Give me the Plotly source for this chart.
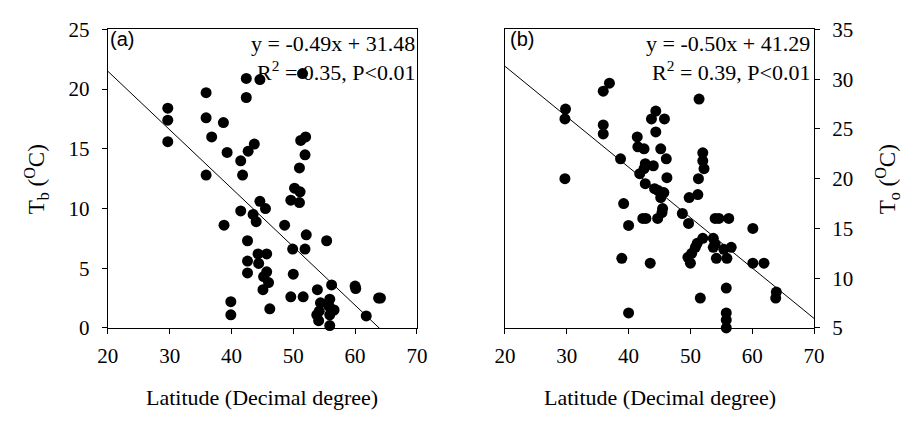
import plotly.graph_objects as go

# Panel (a): latitude vs Tb
lat_a = [29.7, 29.7, 29.7, 35.9, 35.9, 36.8, 38.7, 39.3, 42.4, 44.6, 42.4, 51.5, 43.7, 42.7,
         41.5, 51.2, 52.0, 51.9, 51.0, 35.9, 41.8,
         50.2, 51.1, 49.6, 51.0, 44.6, 45.5, 41.5, 43.5, 44.0, 38.8, 48.6, 52.1, 55.4, 42.6,
         49.9, 51.9, 44.3, 45.7, 44.4, 42.6, 42.6, 45.7, 45.2, 50.0, 46.0, 45.1, 56.2, 60.0,
         60.1, 53.9, 49.6, 51.6, 63.8, 64.1, 39.9, 39.9, 46.2, 54.4, 55.9, 55.8, 56.6, 53.8,
         54.1, 55.9, 55.9, 61.8, 54.2]
tb_a = [18.4, 17.4, 15.6, 19.7, 17.6, 16.0, 17.2, 14.7, 20.9, 20.8, 19.3, 21.3, 15.4, 14.8,
        14.0, 15.7, 16.0, 14.5, 13.4, 12.8, 12.8,
        11.7, 11.4, 10.7, 10.5, 10.6, 10.0, 9.8, 9.5, 8.9, 8.6, 8.6, 7.8, 7.3, 7.3,
        6.6, 6.6, 6.2, 6.2, 5.4, 5.6, 4.6, 4.7, 4.3, 4.5, 3.8, 3.2, 3.6, 3.5,
        3.3, 3.2, 2.6, 2.6, 2.5, 2.5, 2.2, 1.1, 1.6, 2.1, 2.4, 1.8, 1.5, 1.1,
        0.6, 1.1, 0.2, 1.0, 1.4]

# Panel (b): latitude vs To
lat_b = [29.8, 29.7, 29.7, 35.9, 36.9, 35.9, 35.9, 38.7, 39.2, 40.0, 38.9, 40.0, 51.4, 44.4,
         43.7, 45.8, 44.4, 41.4, 41.5, 42.5, 45.2, 46.1, 42.7, 44.0, 42.5, 41.8, 46.2, 42.7,
         44.2, 44.8, 45.7, 45.2, 49.8, 51.2, 51.3, 52.0, 52.0, 52.2, 45.5, 45.4, 44.7, 42.3,
         42.8, 48.7, 49.7, 54.0, 54.6, 56.2, 60.1, 52.0, 51.1, 50.8, 50.2, 49.6, 50.0, 53.7,
         54.0, 53.7, 54.2, 55.4, 56.6, 55.9, 60.1, 61.9, 43.5, 55.8, 51.6, 63.9, 63.8, 55.8,
         55.8, 55.8]
to_b = [27.0, 26.0, 20.0, 28.8, 29.6, 25.4, 24.5, 22.0, 17.5, 15.3, 12.0, 6.5, 28.0, 26.8,
        26.0, 26.0, 24.7, 24.2, 23.2, 23.0, 23.0, 22.0, 21.5, 21.3, 21.0, 20.5, 20.1, 19.5,
        19.0, 18.8, 18.6, 18.1, 18.1, 18.4, 20.0, 22.6, 21.8, 21.0, 17.0, 16.6, 16.0, 16.0,
        16.0, 16.5, 15.5, 16.0, 16.0, 16.0, 15.0, 14.0, 13.5, 13.1, 12.5, 12.1, 11.5, 14.0,
        13.45, 13.1, 12.0, 12.9, 13.1, 12.0, 11.5, 11.5, 11.5, 9.0, 8.0, 8.6, 8.0, 6.5,
        5.8, 5.0]

# Regression lines (endpoints)
fit_a_x = [20, 70]
fit_a_y = [21.5, -3.0]
fit_b_x = [20, 70]
fit_b_y = [31.3, 5.95]

x_ticks = [20, 30, 40, 50, 60, 70]
ya_ticks = [0, 5, 10, 15, 20, 25]
yb_ticks = [5, 10, 15, 20, 25, 30, 35]

W, H = 916, 421
SERIF = "Liberation Serif, Times New Roman, serif"
SANS = "Liberation Sans, Arial, sans-serif"

fig = go.Figure()
mk = dict(color="black", size=11)
fig.add_trace(go.Scatter(x=lat_a, y=tb_a, mode="markers", marker=mk, xaxis="x", yaxis="y",
                         showlegend=False, cliponaxis=False))
fig.add_trace(go.Scatter(x=fit_a_x, y=fit_a_y, mode="lines", line=dict(color="black", width=1),
                         xaxis="x", yaxis="y", showlegend=False))
fig.add_trace(go.Scatter(x=lat_b, y=to_b, mode="markers", marker=mk, xaxis="x2", yaxis="y2",
                         showlegend=False, cliponaxis=False))
fig.add_trace(go.Scatter(x=fit_b_x, y=fit_b_y, mode="lines", line=dict(color="black", width=1),
                         xaxis="x2", yaxis="y2", showlegend=False))

ydom = [1 - 335 / H, 1 - 18.5 / H]
common = dict(showgrid=False, zeroline=False, showline=True, linecolor="black", linewidth=1,
              mirror=True, ticks="outside", ticklen=5, tickwidth=1, tickcolor="black",
              tickfont=dict(family=SERIF, size=21, color="black"))

fig.update_layout(
    width=W, height=H, margin=dict(l=0, r=0, t=0, b=0),
    paper_bgcolor="white", plot_bgcolor="white",
    xaxis=dict(domain=[100 / W, 416 / W], range=[20, 70], tickvals=x_ticks, anchor="y",
               ticklabelstandoff=4, **common),
    yaxis=dict(domain=ydom, range=[0, 25], tickvals=ya_ticks, anchor="x",
               ticklabelstandoff=8, **common),
    xaxis2=dict(domain=[506 / W, 822 / W], range=[20, 70], tickvals=x_ticks, anchor="y2",
                ticklabelstandoff=4, **common),
    yaxis2=dict(domain=ydom, range=[5, 35], tickvals=yb_ticks, anchor="x2", side="right",
                ticklabelstandoff=8, **common),
)

ann = []
def A(text, x, y, xa="center", ya="middle", font=SERIF, size=22, angle=0):
    ann.append(dict(text=text, x=x / W, y=1 - y / H, xref="paper", yref="paper",
                    xanchor=xa, yanchor=ya, showarrow=False, textangle=angle,
                    font=dict(family=font, size=size, color="black")))

A("(a)", 100, 29, xa="left", font=SANS, size=20)
A("(b)", 509, 29, xa="left", font=SANS, size=20)
A("y = -0.49x + 31.48", 416, 33, xa="right")
A("R<sup>2</sup> = 0.35, P<0.01", 416, 63, xa="right")
A("y = -0.50x + 41.29", 820, 33, xa="right")
A("R<sup>2</sup> = 0.39, P<0.01", 820, 63, xa="right")
A("Latitude (Decimal degree)", 258, 409)
A("Latitude (Decimal degree)", 664, 409)
A("T<sub>b</sub> (<sup>O</sup>C)", 27, 177, size=23, angle=-90)
A("T<sub>o</sub> (<sup>O</sup>C)", 897, 177, size=23, angle=-90)
fig.update_layout(annotations=ann)

fig.write_html("out.html")
